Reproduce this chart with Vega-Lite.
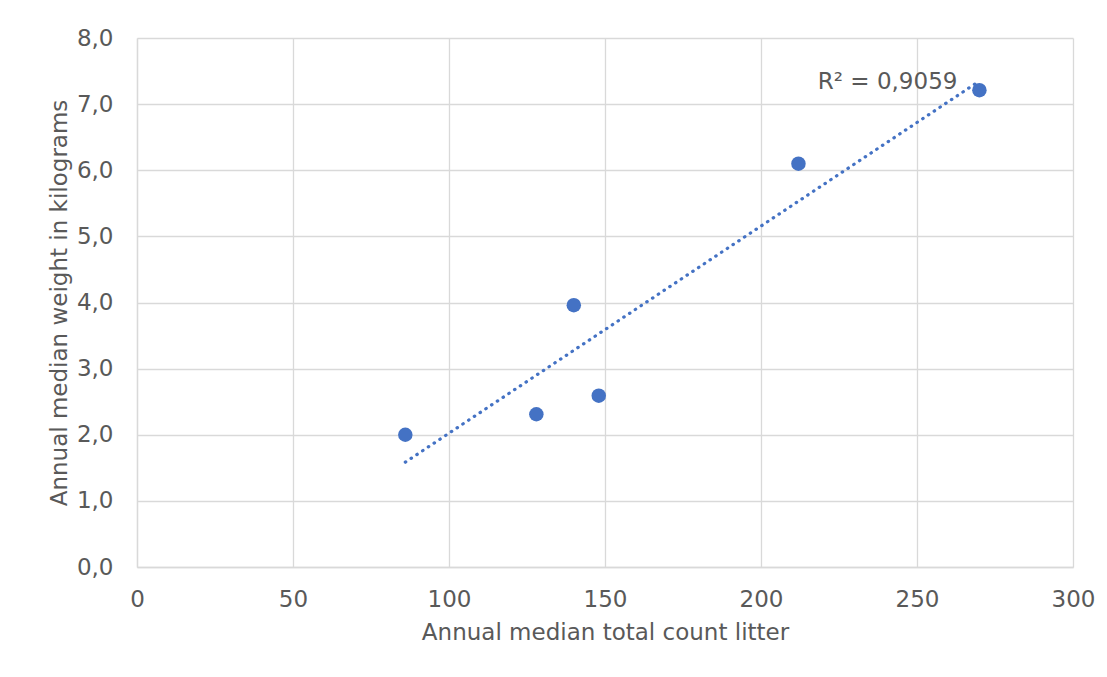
{
  "$schema": "https://vega.github.io/schema/vega-lite/v6.json",
  "width": 936,
  "height": 529,
  "autosize": {"type": "none"},
  "padding": {"left": 137, "top": 38, "right": 34, "bottom": 110},
  "background": "white",
  "config": {
    "locale": {"number": {"decimal": ",", "thousands": ".", "grouping": [3], "currency": ["", " €"]}},
    "font": "DejaVu Sans",
    "view": {"stroke": null},
    "axis": {
      "labelFont": "DejaVu Sans",
      "titleFont": "DejaVu Sans",
      "labelFontSize": 23,
      "titleFontSize": 23,
      "labelColor": "#595959",
      "titleColor": "#595959",
      "titleFontWeight": "normal",
      "gridColor": "#D9D9D9",
      "gridWidth": 1.3,
      "domainColor": "#D9D9D9",
      "domainWidth": 1.3,
      "ticks": false,
      "labelFlush": false
    }
  },
  "datasets": {
    "points": [
      {"count": 86, "weight": 2.0},
      {"count": 128, "weight": 2.31},
      {"count": 140, "weight": 3.96},
      {"count": 148, "weight": 2.59},
      {"count": 212, "weight": 6.1},
      {"count": 270, "weight": 7.21}
    ],
    "label": [
      {"count": 270, "weight": 7.33, "text": "R² = 0,9059"}
    ]
  },
  "layer": [
    {
      "data": {"name": "points"},
      "mark": {"type": "point", "filled": true, "size": 210, "color": "#4472C4", "opacity": 1},
      "encoding": {
        "x": {
          "field": "count", "type": "quantitative",
          "scale": {"domain": [0, 300], "nice": false, "zero": true},
          "axis": {"values": [0, 50, 100, 150, 200, 250, 300], "title": "Annual median total count litter", "labelPadding": 21, "titlePadding": 10, "format": "d"}
        },
        "y": {
          "field": "weight", "type": "quantitative",
          "scale": {"domain": [0, 8], "nice": false},
          "axis": {"values": [0, 1, 2, 3, 4, 5, 6, 7, 8], "format": ".1f", "title": "Annual median weight in kilograms", "labelPadding": 24, "titlePadding": 5}
        }
      }
    },
    {
      "data": {"name": "points"},
      "transform": [{"regression": "weight", "on": "count"}],
      "mark": {"type": "line", "color": "#4472C4", "strokeWidth": 3.2, "strokeCap": "round", "strokeDash": [0.5, 6.4]},
      "encoding": {
        "x": {"field": "count", "type": "quantitative"},
        "y": {"field": "weight", "type": "quantitative"}
      }
    },
    {
      "data": {"name": "label"},
      "mark": {"type": "text", "align": "right", "baseline": "middle", "dx": -22, "fontSize": 23, "color": "#595959", "font": "DejaVu Sans"},
      "encoding": {
        "x": {"field": "count", "type": "quantitative"},
        "y": {"field": "weight", "type": "quantitative"},
        "text": {"field": "text"}
      }
    }
  ]
}
